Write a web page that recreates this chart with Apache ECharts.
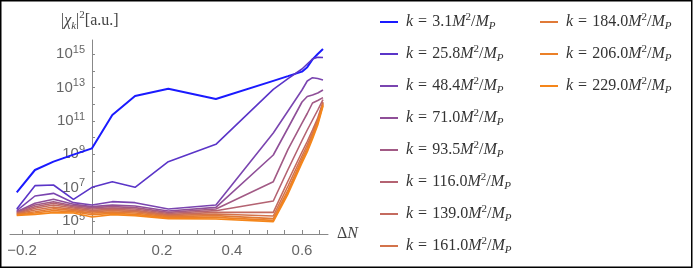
<!DOCTYPE html>
<html><head><meta charset="utf-8">
<script src="https://cdn.jsdelivr.net/npm/echarts@6/dist/echarts.min.js"></script>
<style>html,body{margin:0;padding:0;background:#fff}#c{width:693px;height:269px}</style>
</head><body><div id="c"></div>
<script>
// ΔN sample positions
const dN = [-0.215, -0.163, -0.11, -0.053, 0, 0.058, 0.123, 0.218, 0.354, 0.518, 0.56, 0.6, 0.615, 0.63, 0.645, 0.66];
// k labels (M^2/M_P)
const kLabels = ['3.1','25.8','48.4','71.0','93.5','116.0','139.0','161.0','184.0','206.0','229.0'];
// log10 |chi_k|^2, one array per k
const k3_1   = [6.72, 8.06, 8.56, 8.98, 9.36, 11.36, 12.5, 12.94, 12.32, 13.41, 13.69, 13.96, 14.23, 14.7, 15.02, 15.32];
const k25_8  = [5.72, 7.12, 7.16, 6.3, 7.02, 7.36, 7.02, 8.56, 9.6, 12.9, 13.54, 14.12, 14.42, 14.72, 14.82, 14.81];
const k48_4  = [5.62, 6.5, 6.66, 6.1, 5.96, 6.16, 6.1, 5.72, 5.96, 10.28, 11.6, 12.86, 13.4, 13.6, 13.55, 13.46];
const k71_0  = [5.56, 6.06, 6.3, 6.0, 5.86, 5.95, 5.9, 5.6, 5.82, 8.96, 10.58, 12.14, 12.47, 12.56, 12.68, 12.86];
const k93_5  = [5.52, 5.96, 6.16, 5.92, 5.8, 5.86, 5.8, 5.52, 5.72, 7.36, 9.3, 10.87, 11.45, 12.08, 12.23, 12.4];
const k116_0 = [5.48, 5.86, 6.06, 5.85, 5.72, 5.78, 5.72, 5.45, 5.62, 6.2, 8.09, 9.83, 10.46, 11.06, 11.66, 12.28];
const k139_0 = [5.45, 5.76, 5.96, 5.78, 5.64, 5.7, 5.64, 5.38, 5.52, 5.52, 7.4, 9.14, 9.77, 10.46, 11.18, 12.14];
const k161_0 = [5.42, 5.66, 5.84, 5.7, 5.56, 5.62, 5.56, 5.32, 5.42, 5.3, 7.1, 8.9, 9.56, 10.28, 11.06, 12.08];
const k184_0 = [5.39, 5.56, 5.74, 5.62, 5.47, 5.54, 5.48, 5.26, 5.32, 5.14, 6.86, 8.72, 9.38, 10.16, 11.0, 12.02];
const k206_0 = [5.36, 5.48, 5.62, 5.55, 5.38, 5.46, 5.4, 5.2, 5.22, 5.04, 6.74, 8.6, 9.26, 10.04, 10.88, 11.96];
const k229_0 = [5.33, 5.40, 5.5, 5.48, 5.24, 5.38, 5.32, 5.14, 5.12, 4.96, 6.62, 8.48, 9.14, 9.92, 10.76, 11.9];
const allSeries = [k3_1, k25_8, k48_4, k71_0, k93_5, k116_0, k139_0, k161_0, k184_0, k206_0, k229_0];
const colors = ['#1a1aff','#5a35c8','#7a45b0','#8f4f98','#a25a85','#b46372','#c46b5f','#d3734b','#e07a38','#eb8028','#f5861a'];
// axis ticks
const xTickValues = [-0.2,-0.15,-0.1,-0.05,0,0.05,0.1,0.15,0.2,0.25,0.3,0.35,0.4,0.45,0.5,0.55,0.6,0.65];
const xLabelValues = [-0.2, 0.2, 0.4, 0.6];
const xLabelTexts = ['\u22120.2', '0.2', '0.4', '0.6'];
const yTickExps = [5,6,7,8,9,10,11,12,13,14,15];
const yLabelExps = [5,7,9,11,13,15];

const serif = 'Liberation Serif';
const legendRich = {
  i: {fontFamily: serif, fontStyle: 'italic', fontSize: 16, color: '#333', lineHeight: 20},
  n: {fontFamily: serif, fontSize: 16, color: '#333', lineHeight: 20},
  eq: {fontFamily: serif, fontSize: 16, color: '#333', lineHeight: 20, padding: [0, 5, 0, 5]},
  sup: {fontFamily: serif, fontSize: 11, color: '#333', lineHeight: 12, verticalAlign: 'top'},
  sub: {fontFamily: serif, fontStyle: 'italic', fontSize: 11, color: '#333', lineHeight: 10, verticalAlign: 'bottom'}
};
const legendFmt = name => '{i|k}{eq|=}{n|' + name + '}{i|M}{sup|2}{n|/}{i|M}{sub|P}';

const chart = echarts.init(document.getElementById('c'), null, {renderer: 'canvas'});
const series = allSeries.map((arr, si) => ({
  name: kLabels[si], type: 'line', showSymbol: false, symbol: 'none',
  lineStyle: {width: si === 0 ? 2 : 1.6, color: colors[si]},
  itemStyle: {color: colors[si]},
  data: dN.map((x, i) => [x, Math.pow(10, arr[i])]),
  animation: false
}));
function legendCfg(names, left) {
  return {
    orient: 'vertical', left: left, top: 12, padding: 0, itemWidth: 18, itemHeight: 2, itemGap: 12,
    icon: 'rect', data: names, formatter: legendFmt,
    textStyle: {rich: legendRich, fontFamily: serif, fontSize: 16, color: '#333', padding: [0,0,0,3]},
    selectedMode: false
  };
}
chart.setOption({
  animation: false,
  grid: {left: 10, right: 365, top: 40, bottom: 35, outerBoundsMode: 'none', containLabel: false},
  title: {
    text: '|{i|\u03c7}{sub|k}|{sup|2}[a.u.]', left: 61, top: 10, padding: 0,
    textStyle: {rich: {
      i: {fontFamily: serif, fontStyle: 'italic', fontSize: 16, color: '#444', lineHeight: 22},
      sup: {fontFamily: serif, fontSize: 11, color: '#444', lineHeight: 12, verticalAlign: 'top'},
      sub: {fontFamily: serif, fontStyle: 'italic', fontSize: 11, color: '#444', lineHeight: 10, verticalAlign: 'bottom'}
    }, fontFamily: serif, fontSize: 16, fontWeight: 'normal', color: '#444', lineHeight: 22}
  },
  legend: [legendCfg(kLabels.slice(0, 8), 380), legendCfg(kLabels.slice(8), 540)],
  xAxis: {
    type: 'value', min: -0.2343, max: 0.6743,
    name: '\u0394{i|N}', nameLocation: 'end', nameGap: 9,
    nameTextStyle: {fontFamily: serif, fontSize: 16, color: '#444', verticalAlign: 'middle',
      rich: {i: {fontFamily: serif, fontStyle: 'italic', fontSize: 16, color: '#444'}}},
    axisLine: {onZero: false, lineStyle: {color: '#888', width: 1}},
    axisTick: {inside: true, length: 4, lineStyle: {color: '#888'}, customValues: xTickValues},
    axisLabel: {customValues: xLabelValues, margin: 9, fontFamily: 'Liberation Sans', fontSize: 15, color: '#666',
      formatter: v => { const idx = xLabelValues.findIndex(t => Math.abs(t - v) < 1e-6); return idx >= 0 ? xLabelTexts[idx] : ''; }},
    splitLine: {show: false}
  },
  yAxis: {
    type: 'log', logBase: 10, min: Math.pow(10, 4.22), max: Math.pow(10, 15.86),
    offset: -82,
    axisLine: {show: true, onZero: false, lineStyle: {color: '#888', width: 1}},
    axisTick: {show: true, inside: true, length: 3, lineStyle: {color: '#888'}, customValues: yTickExps.map(e => Math.pow(10, e))},
    axisLabel: {customValues: yLabelExps.map(e => Math.pow(10, e)), margin: 7, fontFamily: 'Liberation Sans', fontSize: 15, color: '#666',
      formatter: v => '10{sup|' + Math.round(Math.log10(v)) + '}',
      rich: {sup: {fontFamily: 'Liberation Sans', fontSize: 11, color: '#666', lineHeight: 12, verticalAlign: 'top'}}, lineHeight: 20},
    splitLine: {show: false}, minorTick: {show: false}
  },
  graphic: [{type: 'rect', shape: {x: 0.75, y: 0.75, width: 691, height: 266.5}, style: {fill: 'none', stroke: '#000', lineWidth: 1.5}, silent: true, z: 100}],
  series: series
});
</script></body></html>
